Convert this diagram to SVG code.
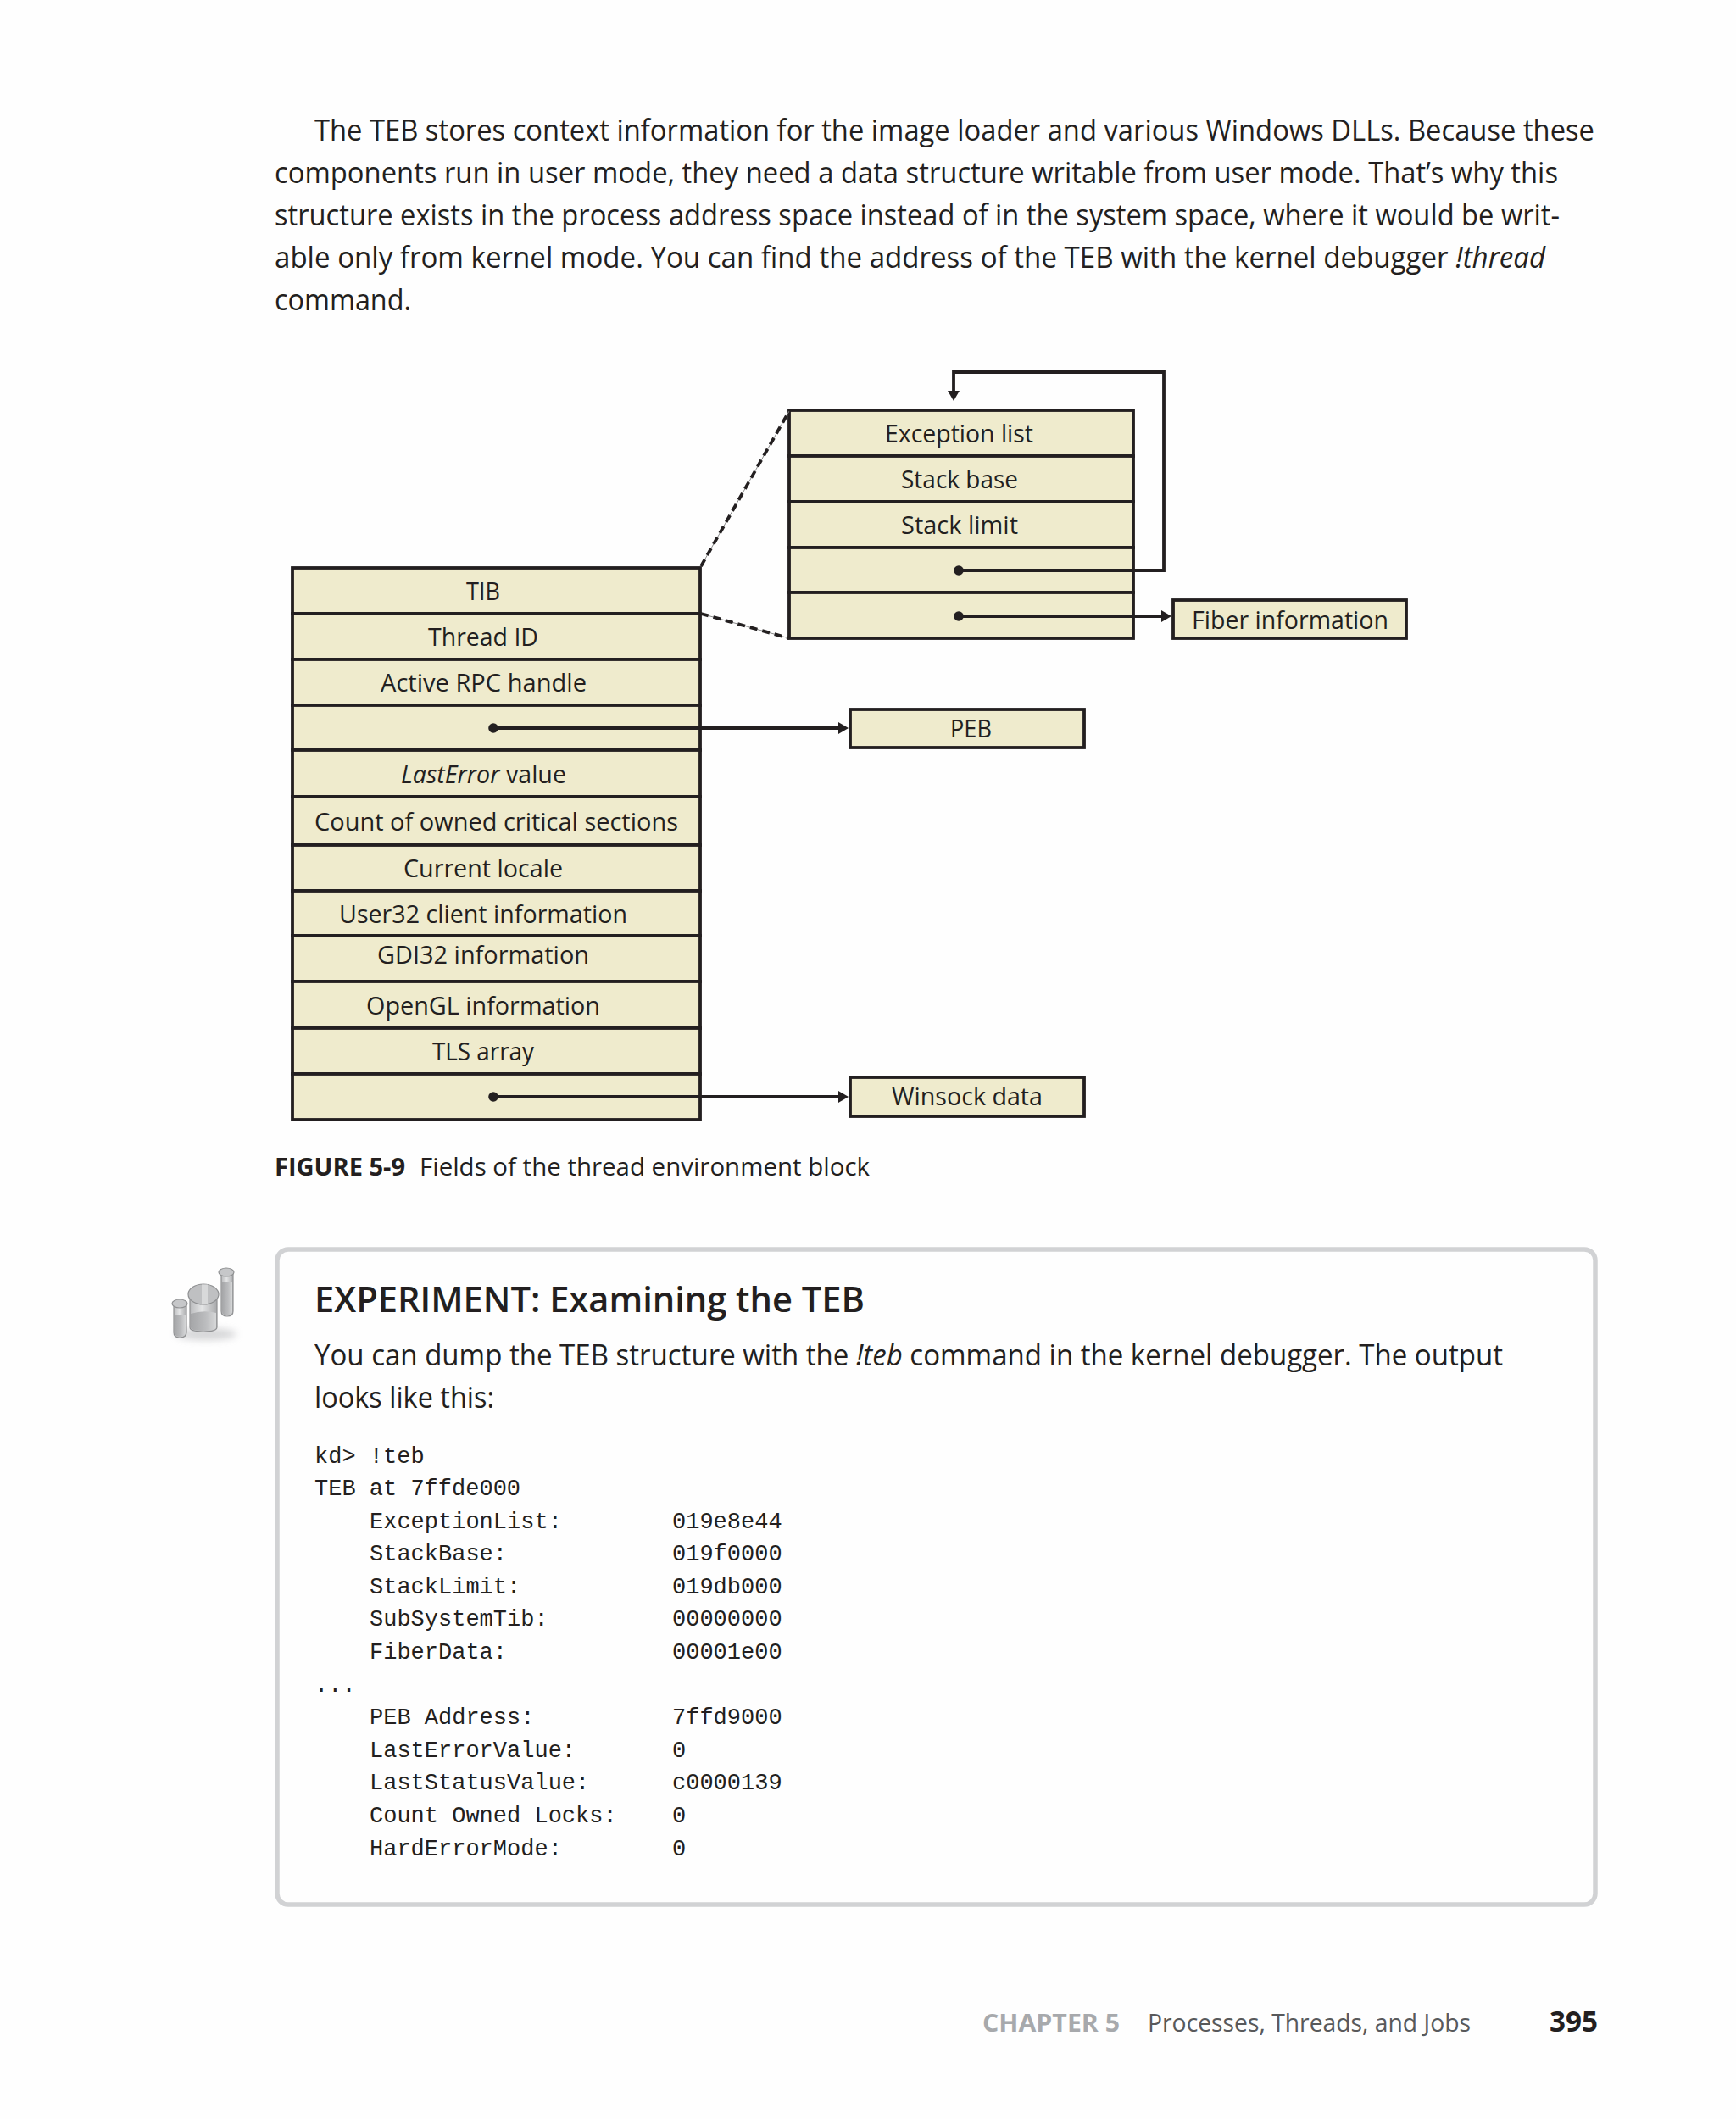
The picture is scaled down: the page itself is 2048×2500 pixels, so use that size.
<svg xmlns="http://www.w3.org/2000/svg" width="2048" height="2500" viewBox="0 0 2048 2500">
<style>
text{font-family:"Open Sans","Noto Sans","Liberation Sans",sans-serif;fill:#231f20;}
.b{font-size:34px;}
.c{font-size:29px;}
.m{font-family:"Liberation Mono","DejaVu Sans Mono",monospace;font-size:27px;fill:#231f20;}
.i{font-style:italic;}
.cell{fill:#efebcd;stroke:#231f20;stroke-width:3.8;}
.wire{fill:none;stroke:#231f20;stroke-width:3.8;}
.dash{fill:none;stroke:#231f20;stroke-width:3.8;stroke-dasharray:9 6;}
.thin{fill:none;stroke:#8a8a8a;stroke-width:1;}
.glass{stroke:#8f9092;stroke-width:1.2;}
</style>
<defs>
<marker id="arrow" markerUnits="userSpaceOnUse" markerWidth="12" markerHeight="14" viewBox="0 0 12 14" refX="4" refY="7" orient="auto"><path d="M0 0L12 7L0 14Z" fill="#231f20"/></marker>
<marker id="dot" markerUnits="userSpaceOnUse" markerWidth="12" markerHeight="12" viewBox="0 0 12 12" refX="6" refY="6" orient="auto"><circle cx="6" cy="6" r="5.8" fill="#231f20"/></marker>
<linearGradient id="gl" x1="0" y1="0" x2="1" y2="0"><stop offset="0" stop-color="#b9babc"/><stop offset=".45" stop-color="#e4e5e6"/><stop offset="1" stop-color="#a9aaac"/></linearGradient>
<linearGradient id="liq" x1="0" y1="0" x2="1" y2="0"><stop offset="0" stop-color="#a5a6a8"/><stop offset=".6" stop-color="#bcbdbf"/><stop offset="1" stop-color="#d6d7d8"/></linearGradient>
<filter id="sh" x="-30%" y="-60%" width="160%" height="220%"><feGaussianBlur stdDeviation="4"/></filter>
</defs>
<rect id="page" width="2048" height="2500" fill="#fefefe"/>

<g id="body-text">
<text class="b" x="371" y="165.5" textLength="1510" lengthAdjust="spacingAndGlyphs">The TEB stores context information for the image loader and various Windows DLLs. Because these</text>
<text class="b" x="324" y="216" textLength="1514" lengthAdjust="spacingAndGlyphs">components run in user mode, they need a data structure writable from user mode. That’s why this</text>
<text class="b" x="324" y="266" textLength="1516" lengthAdjust="spacingAndGlyphs">structure exists in the process address space instead of in the system space, where it would be writ-</text>
<text class="b" x="324" y="316" textLength="1499" lengthAdjust="spacingAndGlyphs">able only from kernel mode. You can find the address of the TEB with the kernel debugger <tspan class="i">!thread</tspan></text>
<text class="b" x="324" y="366" textLength="161" lengthAdjust="spacingAndGlyphs">command.</text>
</g>

<g id="teb-stack">
<g id="f-tib"><rect class="cell" x="345" y="670" width="481" height="54"/><text class="c" x="550" y="708" textLength="40" lengthAdjust="spacingAndGlyphs">TIB</text></g>
<g id="f-thread-id"><rect class="cell" x="345" y="724" width="481" height="54"/><text class="c" x="505" y="762" textLength="130" lengthAdjust="spacingAndGlyphs">Thread ID</text></g>
<g id="f-rpc"><rect class="cell" x="345" y="778" width="481" height="54"/><text class="c" x="449" y="816" textLength="243" lengthAdjust="spacingAndGlyphs">Active RPC handle</text></g>
<g id="f-peb-ptr"><rect class="cell" x="345" y="832" width="481" height="53"/></g>
<g id="f-lasterror"><rect class="cell" x="345" y="885" width="481" height="55"/><text class="c" x="473" y="924" textLength="195" lengthAdjust="spacingAndGlyphs"><tspan class="i">LastError</tspan> value</text></g>
<g id="f-critsec"><rect class="cell" x="345" y="940" width="481" height="57"/><text class="c" x="371" y="980" textLength="429" lengthAdjust="spacingAndGlyphs">Count of owned critical sections</text></g>
<g id="f-locale"><rect class="cell" x="345" y="997" width="481" height="54"/><text class="c" x="476" y="1035" textLength="188" lengthAdjust="spacingAndGlyphs">Current locale</text></g>
<g id="f-user32"><rect class="cell" x="345" y="1051" width="481" height="53"/><text class="c" x="400" y="1089" textLength="340" lengthAdjust="spacingAndGlyphs">User32 client information</text></g>
<g id="f-gdi32"><rect class="cell" x="345" y="1104" width="481" height="54"/><text class="c" x="445" y="1137" textLength="250" lengthAdjust="spacingAndGlyphs">GDI32 information</text></g>
<g id="f-opengl"><rect class="cell" x="345" y="1158" width="481" height="55"/><text class="c" x="432" y="1197" textLength="276" lengthAdjust="spacingAndGlyphs">OpenGL information</text></g>
<g id="f-tls"><rect class="cell" x="345" y="1213" width="481" height="54"/><text class="c" x="510" y="1251" textLength="120" lengthAdjust="spacingAndGlyphs">TLS array</text></g>
<g id="f-winsock-ptr"><rect class="cell" x="345" y="1267" width="481" height="54"/></g>
</g>

<g id="tib-stack">
<g id="t-exception"><rect class="cell" x="931" y="484" width="406" height="54"/><text class="c" x="1044" y="522" textLength="175" lengthAdjust="spacingAndGlyphs">Exception list</text></g>
<g id="t-stack-base"><rect class="cell" x="931" y="538" width="406" height="54"/><text class="c" x="1063" y="576" textLength="138" lengthAdjust="spacingAndGlyphs">Stack base</text></g>
<g id="t-stack-limit"><rect class="cell" x="931" y="592" width="406" height="54"/><text class="c" x="1063" y="630" textLength="138" lengthAdjust="spacingAndGlyphs">Stack limit</text></g>
<g id="t-self-ptr"><rect class="cell" x="931" y="646" width="406" height="53"/></g>
<g id="t-fiber-ptr"><rect class="cell" x="931" y="699" width="406" height="54"/></g>
</g>

<g id="fiber-information"><rect class="cell" x="1384" y="708" width="275" height="45"/><text class="c" x="1406" y="742" textLength="232" lengthAdjust="spacingAndGlyphs">Fiber information</text></g>
<g id="peb"><rect class="cell" x="1003" y="837" width="276" height="45"/><text class="c" x="1121" y="870" textLength="49" lengthAdjust="spacingAndGlyphs">PEB</text></g>
<g id="winsock-data"><rect class="cell" x="1003" y="1271" width="276" height="46"/><text class="c" x="1052" y="1304" textLength="178" lengthAdjust="spacingAndGlyphs">Winsock data</text></g>

<g id="connectors">
<path class="thin" d="M827 668L931 485"/>
<path class="dash" d="M827 668L931 485"/>
<path class="thin" d="M827 724L931 753"/>
<path class="dash" d="M827 724L931 753"/>
<path class="wire" d="M582 859H993" marker-start="url(#dot)" marker-end="url(#arrow)"/>
<path class="wire" d="M582 1294H993" marker-start="url(#dot)" marker-end="url(#arrow)"/>
<path class="wire" d="M1131 727H1374" marker-start="url(#dot)" marker-end="url(#arrow)"/>
<path class="wire" d="M1131 673H1373V439H1125V465" marker-start="url(#dot)" marker-end="url(#arrow)"/>
</g>

<g id="caption">
<text x="324" y="1387" font-size="28" font-weight="700" textLength="154" lengthAdjust="spacingAndGlyphs">FIGURE 5-9</text>
<text x="495" y="1387" font-size="29" textLength="531" lengthAdjust="spacingAndGlyphs">Fields of the thread environment block</text>
</g>

<g id="experiment-icon">
<ellipse cx="243" cy="1574" rx="36" ry="7" fill="#c4c5c7" opacity=".7" filter="url(#sh)"/>
<path class="glass" d="M205 1536V1572Q205 1578 212 1578Q220 1578 220 1572V1536Z" fill="url(#gl)"/>
<path d="M206 1552H219V1572Q219 1577 212 1577Q206 1577 206 1572Z" fill="url(#liq)"/>
<ellipse class="glass" cx="212" cy="1538" rx="9" ry="5" fill="#c6c7c9"/>
<path class="glass" d="M224 1530V1566Q224 1571 240 1571Q256 1571 256 1566V1530Z" fill="url(#gl)"/>
<path d="M225 1550Q240 1545 255 1549V1566Q255 1570 240 1570Q225 1570 225 1566Z" fill="url(#liq)"/>
<ellipse class="glass" cx="240" cy="1527" rx="18" ry="12" fill="#bfc0c2"/>
<path d="M238 1515.5H245V1538H238Z" fill="#d8d9da"/>
<path class="glass" d="M261 1500V1547Q261 1553 268 1553Q275 1553 275 1547V1500Z" fill="url(#gl)"/>
<path d="M262 1513H274V1547Q274 1552 268 1552Q262 1552 262 1547Z" fill="url(#liq)"/>
<ellipse class="glass" cx="267" cy="1501" rx="9" ry="5" fill="#c6c7c9"/>
</g>

<g id="experiment-box">
<rect x="327" y="1474" width="1555" height="773" rx="13" fill="none" stroke="#d1d2d4" stroke-width="5.5"/>
<text x="371" y="1548" font-size="42" font-weight="600" textLength="649" lengthAdjust="spacingAndGlyphs">EXPERIMENT: Examining the TEB</text>
<text class="b" x="371" y="1611" textLength="1402" lengthAdjust="spacingAndGlyphs">You can dump the TEB structure with the <tspan class="i">!teb</tspan> command in the kernel debugger. The output</text>
<text class="b" x="371" y="1661" textLength="212" lengthAdjust="spacingAndGlyphs">looks like this:</text>
<text class="m" x="371" y="1726">kd&gt; !teb</text>
<text class="m" x="371" y="1764">TEB at 7ffde000</text>
<text class="m" x="436" y="1803">ExceptionList:</text><text class="m" x="793" y="1803">019e8e44</text>
<text class="m" x="436" y="1841">StackBase:</text><text class="m" x="793" y="1841">019f0000</text>
<text class="m" x="436" y="1880">StackLimit:</text><text class="m" x="793" y="1880">019db000</text>
<text class="m" x="436" y="1918">SubSystemTib:</text><text class="m" x="793" y="1918">00000000</text>
<text class="m" x="436" y="1957">FiberData:</text><text class="m" x="793" y="1957">00001e00</text>
<text class="m" x="371" y="1995.5">...</text>
<text class="m" x="436" y="2034">PEB Address:</text><text class="m" x="793" y="2034">7ffd9000</text>
<text class="m" x="436" y="2072.5">LastErrorValue:</text><text class="m" x="793" y="2072.5">0</text>
<text class="m" x="436" y="2111">LastStatusValue:</text><text class="m" x="793" y="2111">c0000139</text>
<text class="m" x="436" y="2150">Count Owned Locks:</text><text class="m" x="793" y="2150">0</text>
<text class="m" x="436" y="2188.5">HardErrorMode:</text><text class="m" x="793" y="2188.5">0</text>
</g>

<g id="footer">
<text x="1159" y="2397" font-size="28" font-weight="700" style="fill:#a7a9ac" textLength="162" lengthAdjust="spacingAndGlyphs">CHAPTER 5</text>
<text x="1354" y="2397" font-size="29" style="fill:#58595b" textLength="381" lengthAdjust="spacingAndGlyphs">Processes, Threads, and Jobs</text>
<text x="1828" y="2397" font-size="34" font-weight="700" textLength="57" lengthAdjust="spacingAndGlyphs">395</text>
</g>
</svg>
